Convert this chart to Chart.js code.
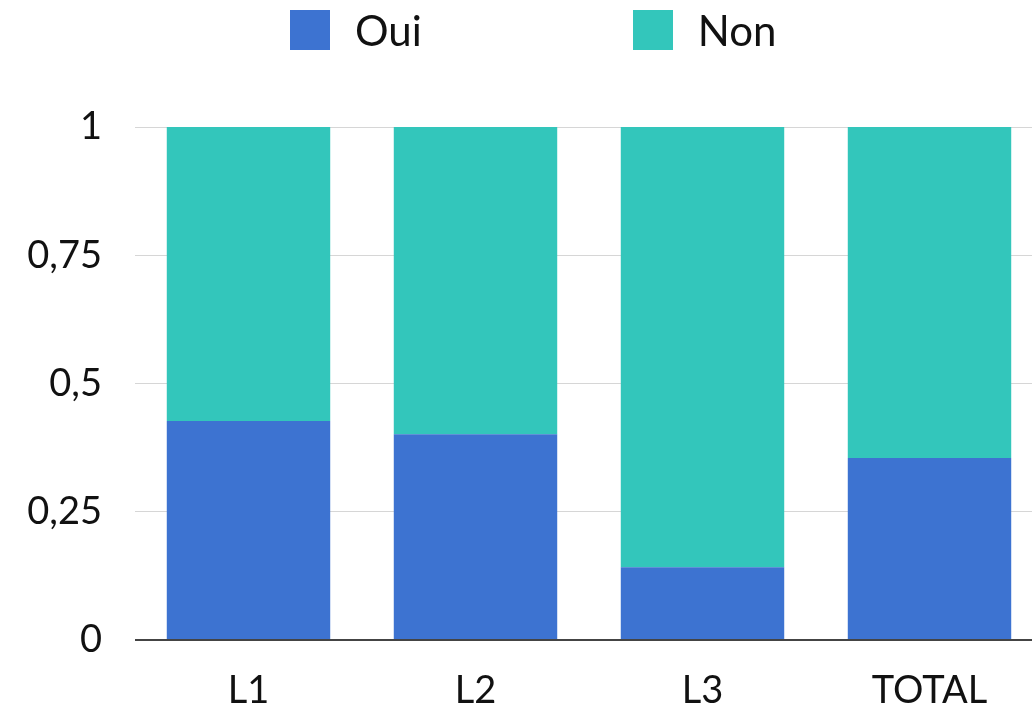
<!DOCTYPE html>
<html>
<head>
<meta charset="utf-8">
<script src="https://cdn.jsdelivr.net/npm/chart.js@4/dist/chart.umd.min.js"></script>
<style>
  html, body { margin: 0; padding: 0; background: #fff; overflow: hidden; }
  body { width: 1032px; height: 711px; position: relative; }
  #wrap { position: absolute; left: 0; top: 0; width: 1043px; height: 711px; }
  #legend {
    position: absolute; left: 290px; top: 10px; height: 40px;
    display: flex; align-items: center; gap: 211px;
    font-family: Lato, "Open Sans", sans-serif; font-size: 42px; color: #111;
  }
  .item { display: flex; align-items: center; }
  .swatch { width: 40px; height: 40px; margin-right: 25px; }
</style>
</head>
<body>
<div id="wrap"><canvas id="chart"></canvas></div>
<div id="legend"></div>
<script>
// Share of answers per group
const categories = ['L1', 'L2', 'L3', 'TOTAL'];
const seriesNames = ['Oui', 'Non'];
const ouiValues = [0.427, 0.401, 0.142, 0.355];
const nonValues = [0.573, 0.599, 0.858, 0.645];
const yTickValues = [0, 0.25, 0.5, 0.75, 1];
const yTickLabels = ['0', '0,25', '0,5', '0,75', '1'];
const seriesColors = ['#3D73D1', '#33C6BB'];

const datasets = [
  { label: seriesNames[0], data: ouiValues, backgroundColor: seriesColors[0] },
  { label: seriesNames[1], data: nonValues, backgroundColor: seriesColors[1] }
];

// Legend row above the plot
const legend = document.getElementById('legend');
datasets.forEach(ds => {
  const item = document.createElement('div');
  item.className = 'item';
  const sw = document.createElement('div');
  sw.className = 'swatch';
  sw.style.background = ds.backgroundColor;
  const txt = document.createElement('span');
  txt.textContent = ds.label;
  item.appendChild(sw);
  item.appendChild(txt);
  legend.appendChild(item);
});

const tickFont = { family: 'Lato, "Open Sans", sans-serif', size: 38 };

new Chart(document.getElementById('chart'), {
  type: 'bar',
  data: { labels: categories, datasets },
  options: {
    responsive: true,
    maintainAspectRatio: false,
    animation: false,
    events: [],
    layout: { padding: { top: 127, right: 0, bottom: 0, left: 0 } },
    plugins: { legend: { display: false }, tooltip: { enabled: false } },
    datasets: { bar: { barPercentage: 0.9, categoryPercentage: 0.8, borderWidth: 0 } },
    scales: {
      x: {
        stacked: true,
        grid: { display: false, drawTicks: false },
        border: { display: false },
        ticks: { font: tickFont, color: '#111', padding: 28, maxRotation: 0 },
        afterFit: s => { s.height = 71; }
      },
      y: {
        stacked: true,
        min: 0,
        max: 1,
        afterBuildTicks: s => { s.ticks = yTickValues.map(v => ({ value: v })); },
        grid: {
          drawTicks: false,
          color: c => (c.tick && c.tick.value === 0) ? '#444' : '#d6d6d6',
          lineWidth: c => (c.tick && c.tick.value === 0) ? 2 : 1
        },
        border: { display: false },
        ticks: {
          font: tickFont,
          color: '#111',
          padding: 33,
          callback: (v, i) => yTickLabels[i]
        },
        afterFit: s => { s.width = 135; }
      }
    }
  }
});
</script>
</body>
</html>
